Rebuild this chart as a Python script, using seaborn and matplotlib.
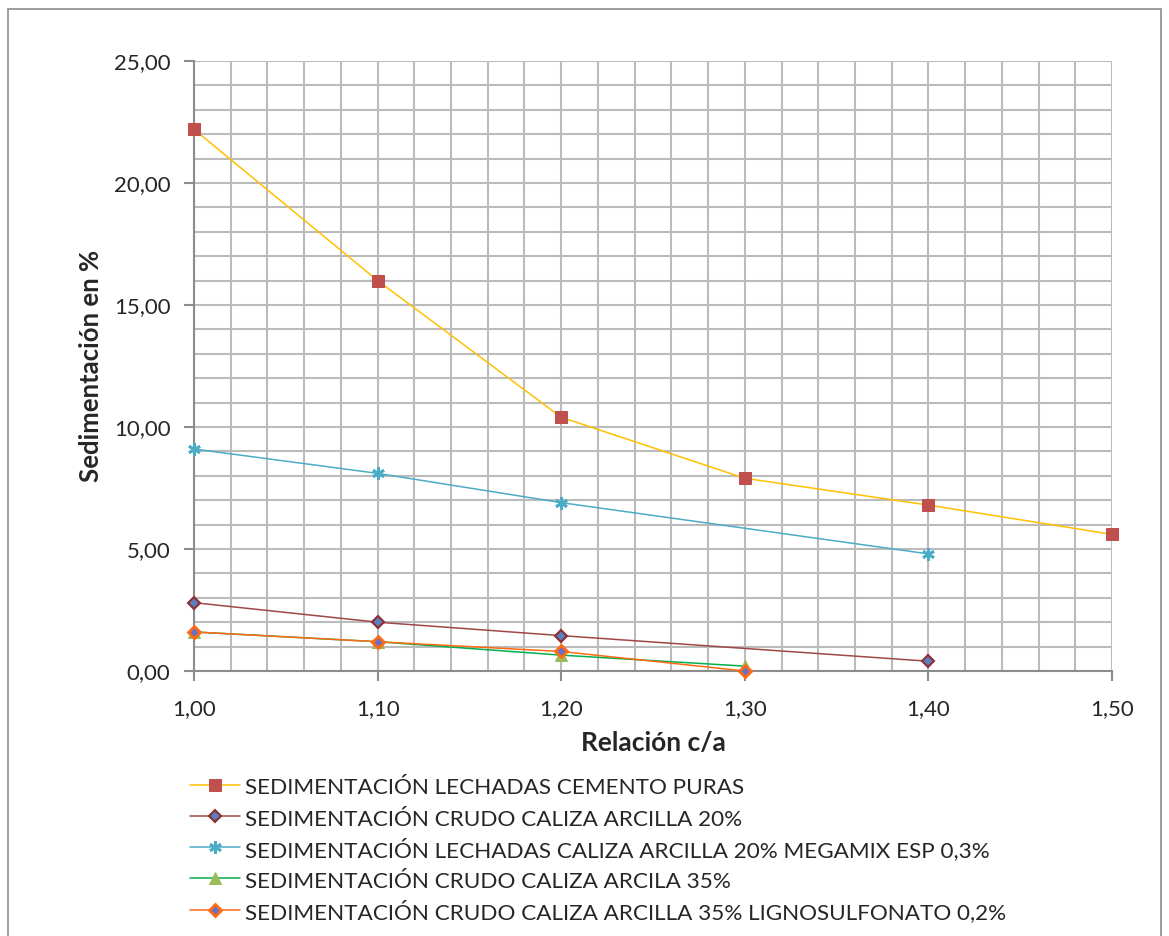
import numpy as np
import pandas as pd
import matplotlib
matplotlib.use("Agg")
import matplotlib.pyplot as plt
from matplotlib.ticker import FuncFormatter, MultipleLocator
from matplotlib.patches import Rectangle
import seaborn as sns

# Sedimentation (%) versus cement/water ratio
x_puras = [1.00, 1.10, 1.20, 1.30, 1.40, 1.50]
y_puras = [22.2, 16.0, 10.4, 7.9, 6.8, 5.6]

x_crudo20 = [1.00, 1.10, 1.20, 1.40]
y_crudo20 = [2.8, 2.0, 1.45, 0.4]

x_megamix = [1.00, 1.10, 1.20, 1.40]
y_megamix = [9.1, 8.1, 6.9, 4.8]

x_crudo35 = [1.00, 1.10, 1.20, 1.30]
y_crudo35 = [1.6, 1.2, 0.65, 0.2]

x_ligno = [1.00, 1.10, 1.20, 1.30]
y_ligno = [1.6, 1.2, 0.8, 0.0]

labels = [
    "SEDIMENTACIÓN LECHADAS CEMENTO PURAS",
    "SEDIMENTACIÓN CRUDO CALIZA ARCILLA 20%",
    "SEDIMENTACIÓN LECHADAS CALIZA ARCILLA 20% MEGAMIX ESP 0,3%",
    "SEDIMENTACIÓN CRUDO CALIZA ARCILA 35%",
    "SEDIMENTACIÓN CRUDO CALIZA ARCILLA 35% LIGNOSULFONATO 0,2%",
]

sns.set_style("white")
plt.rcParams["font.family"] = ["Lato", "DejaVu Sans"]

fig = plt.figure(figsize=(11.69, 9.36), dpi=100)
ax = fig.add_axes([194 / 1169, 1 - 671 / 936, (1112 - 194) / 1169, (671 - 61) / 936])

styles = [
    dict(color="#FFC000", marker="s", markersize=8.5, markerfacecolor="#C0504D",
         markeredgecolor="#C0504D"),
    dict(color="#A04848", marker="D", markersize=6, markerfacecolor="#5B7FC0",
         markeredgecolor="#8B2F2F", markeredgewidth=1.5),
    dict(color="#4BACC6", marker=(6, 2, 0), markersize=9, markerfacecolor="#4BACC6",
         markeredgecolor="#4BACC6", markeredgewidth=2),
    dict(color="#00B050", marker="^", markersize=8, markerfacecolor="#9BBB59",
         markeredgecolor="#9BBB59"),
    dict(color="#FF6A13", marker="D", markersize=6.5, markerfacecolor="#6A70C8",
         markeredgecolor="#FF6A13", markeredgewidth=2),
]

series = [
    (x_puras, y_puras),
    (x_crudo20, y_crudo20),
    (x_megamix, y_megamix),
    (x_crudo35, y_crudo35),
    (x_ligno, y_ligno),
]

for (xs, ys), lab, st in zip(series, labels, styles):
    df = pd.DataFrame({"x": xs, "y": ys})
    sns.lineplot(data=df, x="x", y="y", ax=ax, label=lab, linewidth=1.1,
                 zorder=3, clip_on=False, **st)

ax.set_xlim(1.0, 1.5)
ax.set_ylim(0, 25)
ax.xaxis.set_major_locator(MultipleLocator(0.1))
ax.xaxis.set_minor_locator(MultipleLocator(0.02))
ax.yaxis.set_major_locator(MultipleLocator(5))
ax.yaxis.set_minor_locator(MultipleLocator(1))

fmt = FuncFormatter(lambda v, p: f"{v:.2f}".replace(".", ","))
ax.xaxis.set_major_formatter(fmt)
ax.yaxis.set_major_formatter(fmt)

ax.grid(True, which="both", color="#BBBBBB", linewidth=1.5, zorder=0)
ax.set_axisbelow(True)

for side in ["top", "right"]:
    ax.spines[side].set_visible(False)
for side in ["left", "bottom"]:
    ax.spines[side].set_color("#8C8C8C")
    ax.spines[side].set_linewidth(1.5)

ax.tick_params(axis="both", which="major", length=7, width=1.5, color="#8C8C8C",
               labelsize=16, direction="out")
ax.tick_params(axis="both", which="minor", length=0)
ax.tick_params(axis="x", pad=13)
ax.tick_params(axis="y", pad=10)
ax.xaxis.set_ticks_position("bottom")
ax.yaxis.set_ticks_position("left")

ax.set_xlabel("Relación c/a", fontsize=19, fontweight="bold", labelpad=9)
ax.set_ylabel("Sedimentación en %", fontsize=18.5, fontweight="bold", labelpad=8)

handles, labs = ax.get_legend_handles_labels()
ax.get_legend().remove()
fig.legend(handles, labs, loc="upper left", bbox_to_anchor=(190 / 1169, 1 - 775 / 936),
           frameon=False, fontsize=16.2, handlelength=2.2, handleheight=1.25,
           handletextpad=0.25, labelspacing=0.33, borderaxespad=0, borderpad=0)

fig.patches.append(Rectangle((8 / 1169, -0.05), (1161 - 8) / 1169, 1.05 - 9 / 936,
                             transform=fig.transFigure, fill=False,
                             edgecolor="#8C8C8C", linewidth=1.2))

fig.savefig("out.png", dpi=100)
